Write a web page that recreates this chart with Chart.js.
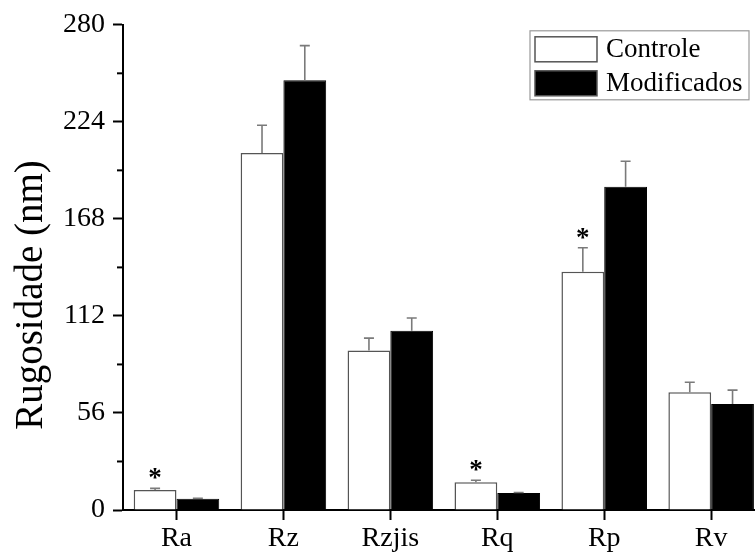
<!DOCTYPE html>
<html>
<head>
<meta charset="utf-8">
<script src="https://cdn.jsdelivr.net/npm/chart.js@4.4.1/dist/chart.umd.min.js"></script>
<style>
body{margin:0;background:#fff;}
#wrap{width:755px;height:553px;}
</style>
</head>
<body>
<div id="wrap"><canvas id="rugChart"></canvas></div>
<script>

// data
let categories = ["Ra","Rz","Rzjis","Rq","Rp","Rv"];
let controle = [11.5,206,92,16,137.5,68];
let controleErr = [1,16,7.2,1.2,13.8,5.7];
let modificados = [6.5,248,103.5,9.8,186.5,61.2];
let modificadosErr = [0.3,20,7.3,0.3,14.8,8];
let signif = [true,false,false,true,true,false];
let yTicks = [0,56,112,168,224,280];
let yMinorTicks = [28,84,140,196,252];

let serif = "'Liberation Serif','Times New Roman',serif";

function toPoints(vals){
return vals.map((v,i)=>({x:i+1,y:v}));
}


// error bars, asterisks, minor ticks, legend and axis title
let extras = {
id:"extras",
afterDatasetsDraw(chart){

let ctx = chart.ctx;
let ys = chart.scales.y;
let errs = [controleErr, modificadosErr];

ctx.save();
ctx.strokeStyle = "#7a7a7a";
ctx.lineWidth = 1.6;

chart.data.datasets.forEach((ds,d)=>{
let meta = chart.getDatasetMeta(d);
meta.data.forEach((bar,i)=>{
let top = ys.getPixelForValue(ds.data[i].y + errs[d][i]);
ctx.beginPath();
ctx.moveTo(bar.x, bar.y);
ctx.lineTo(bar.x, top);
ctx.moveTo(bar.x-5, top);
ctx.lineTo(bar.x+5, top);
ctx.stroke();

if(d===0 && signif[i]){
ctx.fillStyle = "#000";
ctx.font = "bold 27px " + serif;
ctx.textAlign = "center";
ctx.textBaseline = "alphabetic";
ctx.fillText("*", bar.x, top - 2);
}
})
})
ctx.restore();

},
afterDraw(chart){

let ctx = chart.ctx;
let ys = chart.scales.y;
let area = chart.chartArea;

ctx.save();

// minor ticks
ctx.strokeStyle = "#000";
ctx.lineWidth = 2;
yMinorTicks.forEach(v=>{
let p = ys.getPixelForValue(v);
ctx.beginPath();
ctx.moveTo(area.left-6, p);
ctx.lineTo(area.left, p);
ctx.stroke();
})

// axis title
ctx.fillStyle = "#000";
ctx.font = "39px " + serif;
ctx.textAlign = "center";
ctx.textBaseline = "middle";
ctx.translate(32, area.bottom - 215);
ctx.rotate(-Math.PI/2);
ctx.fillText("Rugosidade (nm)", 0, 0);
ctx.restore();

// legend
ctx.save();
let lx = area.right - 225, ly = area.top + 6;
ctx.strokeStyle = "#999";
ctx.lineWidth = 1.2;
ctx.strokeRect(lx, ly, 219, 69);
ctx.font = "27px " + serif;
ctx.textAlign = "left";
ctx.textBaseline = "middle";
chart.data.datasets.forEach((ds,d)=>{
let sy = ly + 6 + d*34;
ctx.fillStyle = ds.backgroundColor;
ctx.fillRect(lx+5, sy, 62, 25);
ctx.strokeStyle = "#555";
ctx.lineWidth = 1.5;
ctx.strokeRect(lx+5, sy, 62, 25);
ctx.fillStyle = "#000";
ctx.fillText(ds.label, lx+76, sy+13);
})
ctx.restore();

}
}


new Chart(document.getElementById("rugChart"),{

type:"bar",

data:{
datasets:[
{
label:"Controle",
data:toPoints(controle),
backgroundColor:"#ffffff",
borderColor:"#555555",
borderWidth:1.5
},
{
label:"Modificados",
data:toPoints(modificados),
backgroundColor:"#000000",
borderColor:"#000000",
borderWidth:1
}
]
},

options:{
responsive:true,
maintainAspectRatio:false,
animation:false,
categoryPercentage:0.8,
barPercentage:1.0,
layout:{padding:{top:24,right:0,left:0,bottom:0}},
plugins:{
legend:{display:false},
tooltip:{enabled:false}
},
scales:{
x:{
type:"linear",
offset:false,
min:0.5,
max:6.41,
afterBuildTicks(scale){
scale.ticks = categories.map((c,i)=>({value:i+1}));
},
afterFit(scale){
scale.height = 43;
},
ticks:{
callback:(v)=>categories[v-1],
color:"#000",
font:{family:serif,size:28},
padding:2,
maxRotation:0,
autoSkip:false
},
grid:{
offset:false,
drawOnChartArea:false,
tickLength:10,
tickWidth:2,
tickColor:"#000"
},
border:{color:"#000",width:2}
},
y:{
min:0,
max:280,
afterBuildTicks(scale){
scale.ticks = yTicks.map(v=>({value:v}));
},
afterFit(scale){
scale.width = 123;
},
ticks:{
color:"#000",
font:{family:serif,size:28},
padding:8
},
grid:{
drawOnChartArea:false,
tickLength:10,
tickWidth:2,
tickColor:"#000"
},
border:{color:"#000",width:2}
}
}
},

plugins:[extras]

})

</script>
</body>
</html>
